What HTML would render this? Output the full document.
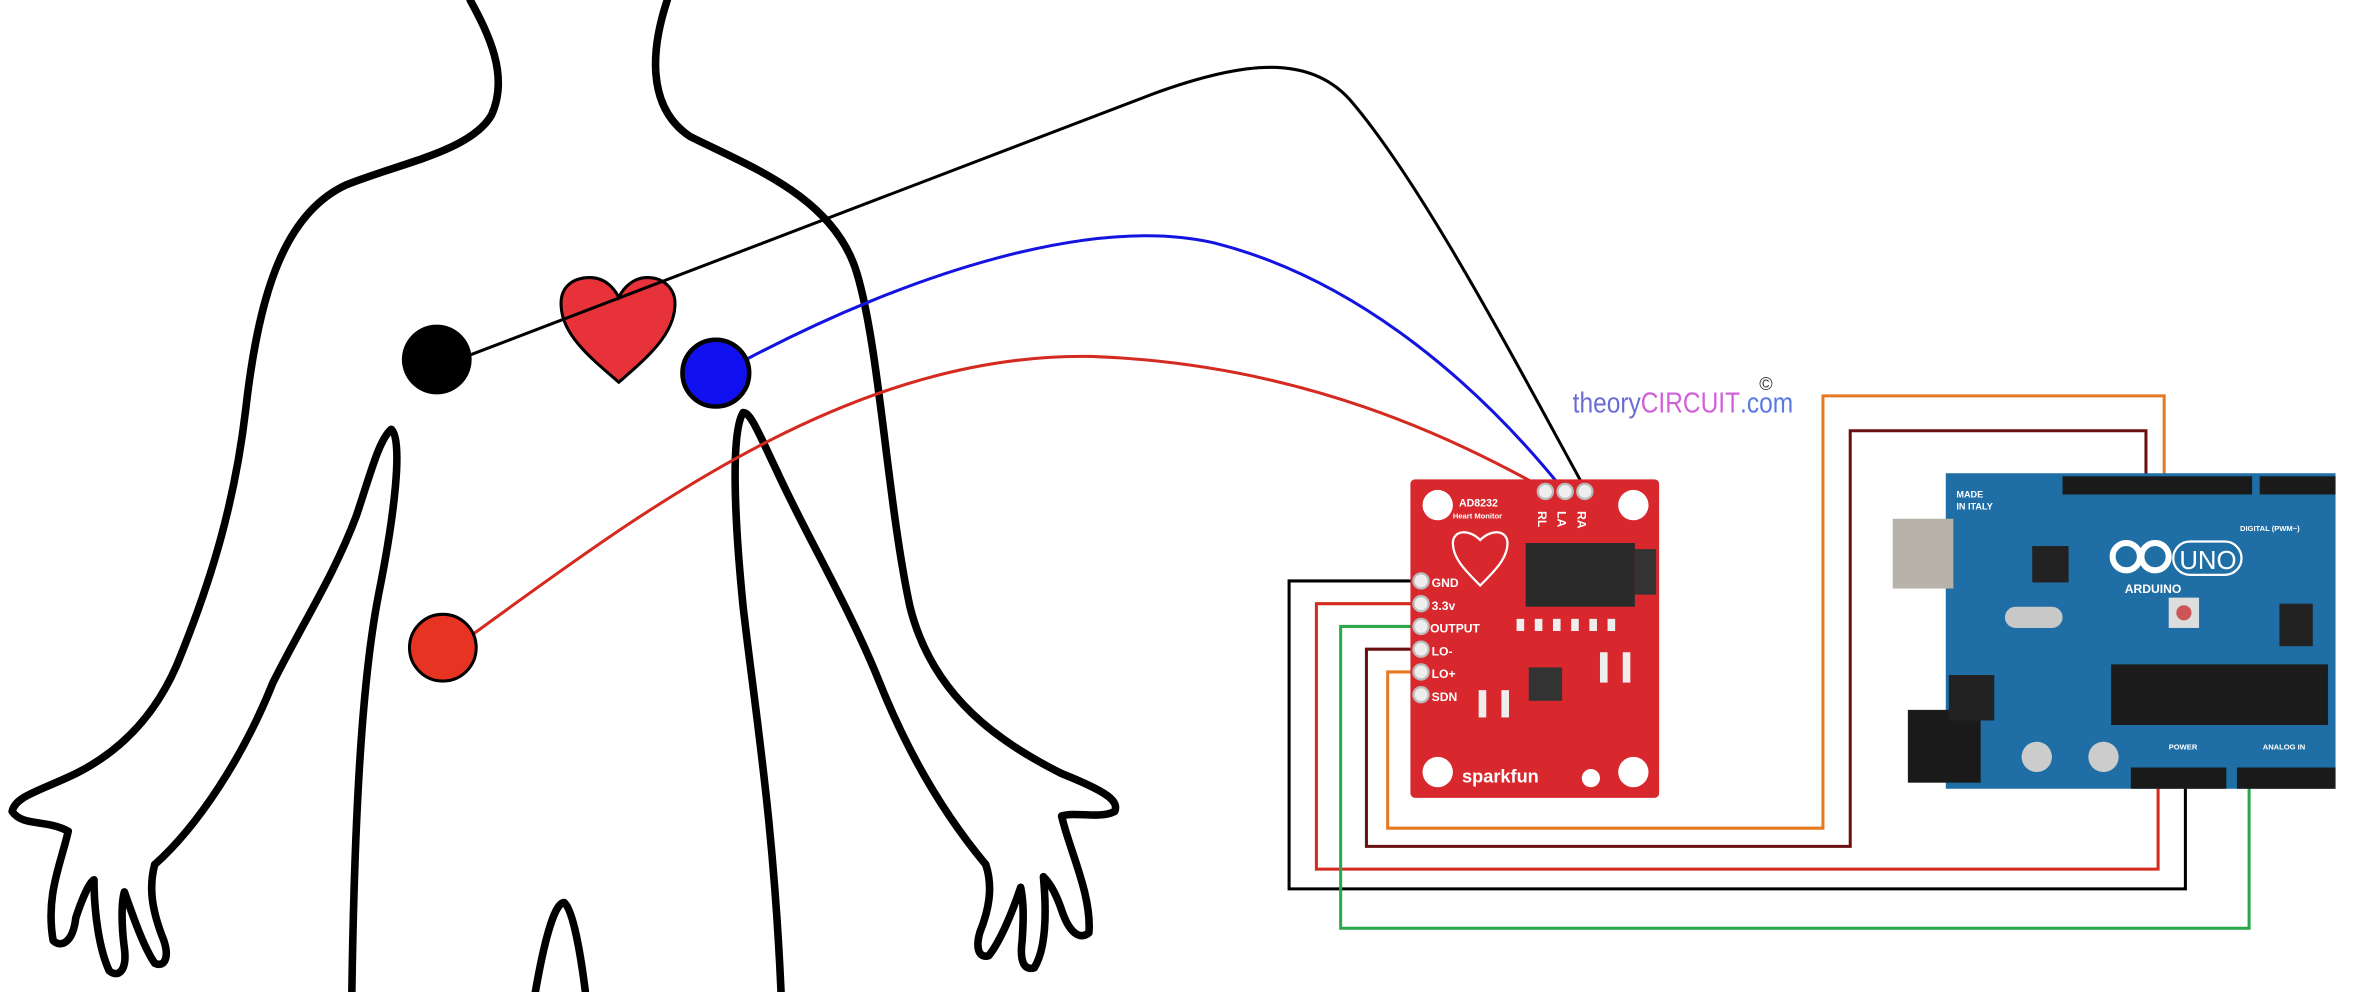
<!DOCTYPE html>
<html><head><meta charset="utf-8"><style>html,body{margin:0;padding:0;background:#fff;overflow:hidden}svg{display:block}</style></head>
<body>
<svg width="2378" height="992" viewBox="0 0 1568 654" preserveAspectRatio="none" xmlns="http://www.w3.org/2000/svg">
<rect width="1568" height="654" fill="#fff"/>
<g fill="none" stroke="#000" stroke-width="5" stroke-linecap="round" stroke-linejoin="round">
<path d="M310,0 C322,22 336,50 324,76 C310,100 262,108 228,122 C185,142 170,200 162,270 C155,330 140,380 120,430 C105,470 80,495 50,510 C25,522 10,525 8,535 C15,545 30,540 45,548 C40,570 30,590 35,620 C40,625 48,622 50,605 C55,590 60,580 62,580 C62,600 65,625 72,640 C78,645 84,640 82,625 C80,610 80,595 82,588 C88,605 95,625 102,635 C108,638 112,632 108,620 C100,600 98,585 102,570"/>
<path d="M102,570 C130,545 160,500 180,450 C200,410 220,380 235,340 C245,310 250,290 258,283 C266,290 260,340 250,390 C240,440 234,520 232,654"/>
<path d="M440,0 C430,30 425,70 455,90 C495,110 550,130 565,180 C580,230 585,330 600,400 C615,460 660,490 700,510 C730,522 738,528 735,535 C725,540 710,535 700,538 C705,560 720,590 718,615 C712,620 705,615 700,600 C695,585 690,580 688,578 C690,600 690,625 682,638 C676,640 672,635 674,620 C675,605 675,595 673,585 C668,600 660,620 652,630 C646,632 643,626 646,615 C652,600 655,585 650,570"/>
<path d="M650,570 C625,540 600,500 580,450 C560,400 530,350 512,310 C500,285 495,272 490,272 C482,285 484,340 490,400 C498,470 510,540 515,654"/>
<path d="M353,654 C358,625 365,595 372,595 C378,600 383,630 386,654"/>
</g>
<path d="M408,252 C392,238 371,222 370,202 C369,188 379,183 389,183 C399,183 405,190 408,196 C411,190 417,183 427,183 C437,183 446,190 445,202 C444,222 424,238 408,252 Z" fill="#e8323a" stroke="#000" stroke-width="2"/>
<g fill="none" stroke-width="2">
<path d="M310,234 L760,62 C820,40 865,35 892,68 C940,125 1000,240 1045,322" stroke="#000"/>
<path d="M492,237 C600,180 720,142 800,160 C900,185 980,260 1030,322" stroke="#1414e0"/>
<path d="M312,418 C420,340 560,232 720,235 C860,240 960,290 1018,322" stroke="#d42a20"/>
</g>
<circle cx="288" cy="237" r="23" fill="#000"/>
<circle cx="472" cy="246" r="22" fill="#1010f0" stroke="#000" stroke-width="3"/>
<circle cx="292" cy="427" r="22" fill="#e63322" stroke="#000" stroke-width="2"/>
<g fill="none" stroke-width="2">
<path d="M937,383 H850 V586 H1441 V512" stroke="#000"/>
<path d="M937,398 H868 V573 H1423 V512" stroke="#d42a20"/>
<path d="M937,413 H884 V612 H1483 V512" stroke="#2ba84a"/>
<path d="M937,428 H901 V558 H1220 V284 H1415 V318" stroke="#6a1010"/>
<path d="M937,443 H915 V546 H1202 V261 H1427 V318" stroke="#e57a20"/>
</g>
<g>
<rect x="930" y="316" width="164" height="210" rx="3" fill="#d8282e"/>
<circle cx="948" cy="333" r="10" fill="#fff"/><circle cx="1077" cy="333" r="10" fill="#fff"/>
<circle cx="948" cy="509" r="10" fill="#fff"/><circle cx="1077" cy="509" r="10" fill="#fff"/>
<g fill="#eee" stroke="#bbb" stroke-width="1.5"><circle cx="1019" cy="324" r="5"/><circle cx="1032" cy="324" r="5"/><circle cx="1045" cy="324" r="5"/></g>
<g font-family="Liberation Sans, sans-serif" fill="#fff" font-weight="bold">
<text x="962" y="334" font-size="7">AD8232</text>
<text x="958" y="342" font-size="5">Heart Monitor</text>
<text x="1016" y="345" font-size="8" transform="rotate(90 1019 340)">RL</text>
<text x="1029" y="345" font-size="8" transform="rotate(90 1032 340)">LA</text>
<text x="1042" y="345" font-size="8" transform="rotate(90 1045 340)">RA</text>
<text x="944" y="387" font-size="8">GND</text>
<text x="944" y="402" font-size="8">3.3v</text>
<text x="943" y="417" font-size="8">OUTPUT</text>
<text x="944" y="432" font-size="8">LO-</text>
<text x="944" y="447" font-size="8">LO+</text>
<text x="944" y="462" font-size="8">SDN</text>
<text x="964" y="516" font-size="12">sparkfun</text>
</g>
<g fill="#eee" stroke="#bbb" stroke-width="1.5">
<circle cx="937" cy="383" r="5"/><circle cx="937" cy="398" r="5"/><circle cx="937" cy="413" r="5"/><circle cx="937" cy="428" r="5"/><circle cx="937" cy="443" r="5"/><circle cx="937" cy="458" r="5"/></g>
<path d="M976,386 C966,376 958,368 958,358 C958,350 968,348 976,356 C984,348 994,350 994,358 C994,368 986,376 976,386 Z" fill="none" stroke="#fff" stroke-width="1.5"/>
<rect x="1006" y="358" width="72" height="42" fill="#2a2a2a"/>
<rect x="1078" y="362" width="14" height="30" fill="#333"/>
<rect x="1008" y="440" width="22" height="22" fill="#333"/>
<g fill="#eee"><rect x="1000" y="408" width="5" height="8"/><rect x="1012" y="408" width="5" height="8"/><rect x="1024" y="408" width="5" height="8"/><rect x="1036" y="408" width="5" height="8"/><rect x="1048" y="408" width="5" height="8"/><rect x="1060" y="408" width="5" height="8"/><rect x="1055" y="430" width="5" height="20"/><rect x="1070" y="430" width="5" height="20"/><rect x="990" y="455" width="5" height="18"/><rect x="975" y="455" width="5" height="18"/></g>
<circle cx="1049" cy="513" r="6" fill="#fff"/>
</g>
<g>
<path d="M1283,312 H1540 V520 H1283 Z" fill="#1f6fa6"/>
<rect x="1248" y="342" width="40" height="46" fill="#b8b3a8"/>
<rect x="1258" y="468" width="48" height="48" fill="#1a1a1a"/>
<rect x="1360" y="314" width="125" height="12" fill="#1a1a1a"/>
<rect x="1490" y="314" width="50" height="12" fill="#1a1a1a"/>
<rect x="1405" y="506" width="63" height="14" fill="#1a1a1a"/>
<rect x="1475" y="506" width="65" height="14" fill="#1a1a1a"/>
<rect x="1392" y="438" width="143" height="40" fill="#1c1c1c"/>
<rect x="1340" y="360" width="24" height="24" fill="#222"/>
<rect x="1322" y="400" width="38" height="14" rx="7" fill="#c8c8c8"/>
<rect x="1430" y="394" width="20" height="20" fill="#ddd"/><circle cx="1440" cy="404" r="5" fill="#c55"/>
<rect x="1503" y="398" width="22" height="28" fill="#222"/>
<circle cx="1343" cy="499" r="10" fill="#ccc"/><circle cx="1387" cy="499" r="10" fill="#ccc"/>
<rect x="1285" y="445" width="30" height="30" fill="#222"/>
<g fill="none" stroke="#fff" stroke-width="4"><circle cx="1402" cy="367" r="9"/><circle cx="1421" cy="367" r="9"/></g>
<rect x="1433" y="357" width="45" height="22" rx="11" fill="none" stroke="#fff" stroke-width="1.5"/>
<g font-family="Liberation Sans, sans-serif" fill="#fff" font-weight="bold">
<text x="1437" y="375" font-size="17" font-weight="normal">UNO</text>
<text x="1401" y="391" font-size="8">ARDUINO</text>
<text x="1290" y="328" font-size="6">MADE</text>
<text x="1290" y="336" font-size="6">IN ITALY</text>
<text x="1477" y="350" font-size="5">DIGITAL (PWM~)</text>
<text x="1430" y="494" font-size="5">POWER</text>
<text x="1492" y="494" font-size="5">ANALOG IN</text>
</g>
</g>
<text x="1037" y="272" font-family="Liberation Sans Narrow, Liberation Sans, sans-serif" font-size="19" transform="translate(1037 272) scale(0.85 1) translate(-1037 -272)"><tspan fill="#6b6bd6">theory</tspan><tspan fill="#d060d8">CIRCUIT</tspan><tspan fill="#5a7ae0">.com</tspan></text>
<text x="1160" y="257" font-family="Liberation Sans, sans-serif" font-size="12" fill="#333">©</text>
</svg>
</body></html>
